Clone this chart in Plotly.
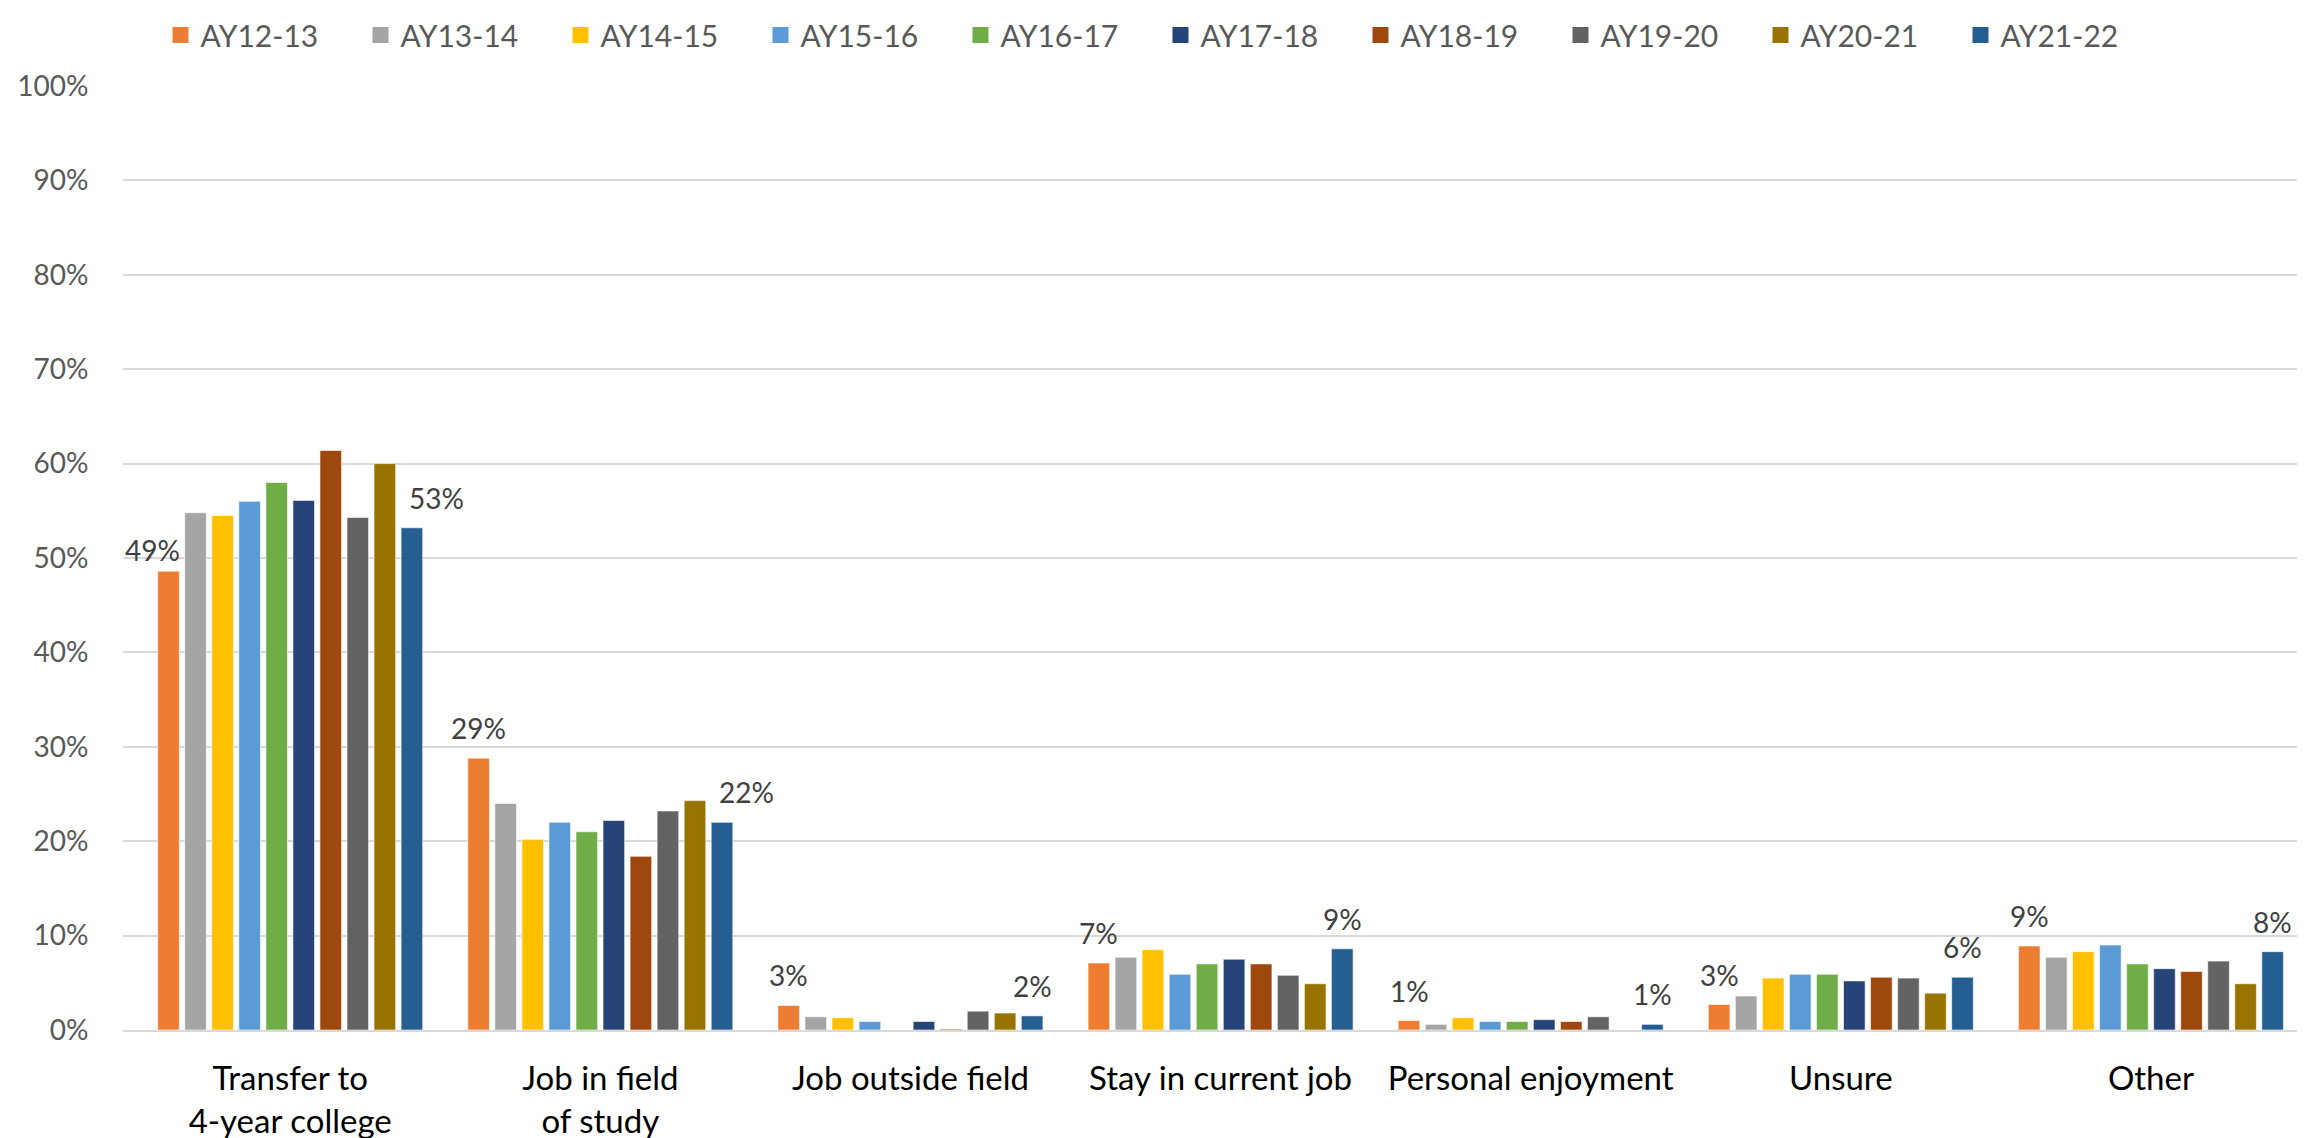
import plotly.graph_objects as go

categories = ["Transfer to<br>4-year college", "Job in field<br>of study", "Job outside field",
              "Stay in current job", "Personal enjoyment", "Unsure", "Other"]
years = ["AY12-13", "AY13-14", "AY14-15", "AY15-16", "AY16-17",
         "AY17-18", "AY18-19", "AY19-20", "AY20-21", "AY21-22"]

ay12_13 = [0.486, 0.288, 0.026, 0.071, 0.010, 0.027, 0.089]
ay13_14 = [0.548, 0.240, 0.014, 0.077, 0.006, 0.036, 0.077]
ay14_15 = [0.545, 0.202, 0.013, 0.085, 0.013, 0.055, 0.083]
ay15_16 = [0.560, 0.220, 0.009, 0.059, 0.009, 0.059, 0.090]
ay16_17 = [0.580, 0.210, 0.000, 0.070, 0.009, 0.059, 0.070]
ay17_18 = [0.561, 0.222, 0.009, 0.075, 0.011, 0.052, 0.065]
ay18_19 = [0.614, 0.184, 0.001, 0.070, 0.009, 0.056, 0.062]
ay19_20 = [0.543, 0.232, 0.020, 0.058, 0.014, 0.055, 0.073]
ay20_21 = [0.600, 0.243, 0.018, 0.049, 0.000, 0.039, 0.049]
ay21_22 = [0.532, 0.220, 0.015, 0.086, 0.006, 0.056, 0.083]

series = [ay12_13, ay13_14, ay14_15, ay15_16, ay16_17,
          ay17_18, ay18_19, ay19_20, ay20_21, ay21_22]
colors = ["#ED7D31", "#A5A5A5", "#FFC000", "#5B9BD5", "#70AD47",
          "#264478", "#9E480E", "#636363", "#997300", "#255E91"]

FONT = "Lato"
BARGAP = 0.128
GROUPGAP = 0.2

fig = go.Figure()
for name, vals, col in zip(years, series, colors):
    fig.add_trace(go.Bar(name=name, x=categories, y=vals, legendgroup=name, showlegend=False,
                         marker=dict(color=col, line=dict(color="rgba(255,255,255,0.6)", width=1))))
# legend entries with larger square swatches
for name, col in zip(years, colors):
    fig.add_trace(go.Scatter(name=name, x=[None], y=[None], mode="markers", legendgroup=name,
                             marker=dict(symbol="square", size=21, color=col), hoverinfo="skip"))

# data labels for first and last series
label_series = [0, len(series) - 1]
special = {(0, 0): (-16, 21), (9, 0): (25, 30), (9, 1): (24, 30)}
n = len(series)
slot = (1 - BARGAP) / n
annotations = []
for k in label_series:
    for i, v in enumerate(series[k]):
        xs, ys = special.get((k, i), (0, 30))
        annotations.append(dict(
            x=i - (1 - BARGAP) / 2 + (k + 0.5) * slot, y=v, xref="x", yref="y",
            text=f"{v:.0%}", showarrow=False, xshift=xs, yshift=ys,
            font=dict(family=FONT, size=28, color="#404040")))

fig.update_layout(
    width=2305, height=1138,
    margin=dict(l=115, r=7, t=78, b=116, autoexpand=False),
    paper_bgcolor="white", plot_bgcolor="white",
    barmode="group", bargap=BARGAP, bargroupgap=GROUPGAP,
    font=dict(family=FONT, color="#595959"),
    legend=dict(orientation="h", xref="container", yref="container",
                x=0.5, xanchor="center", y=1 - 27 / 1138, yanchor="middle",
                font=dict(family=FONT, size=30, color="#595959"),
                entrywidth=155, traceorder="normal", itemsizing="trace"),
    annotations=annotations,
)
fig.update_yaxes(range=[0, 1], dtick=0.1, tickformat=".0%", automargin=False,
                 showgrid=True, gridcolor="#D9D9D9", gridwidth=2,
                 zeroline=False, showline=False,
                 tickfont=dict(family=FONT, size=28, color="#595959"),
                 ticks="outside", ticklen=28, tickcolor="rgba(0,0,0,0)")
fig.update_xaxes(type="category", automargin=False, showline=True, linecolor="#D9D9D9", linewidth=2,
                 tickfont=dict(family=FONT, size=33, color="#000000"),
                 ticks="outside", ticklen=18, tickcolor="rgba(0,0,0,0)")

fig.write_html("out.html")
